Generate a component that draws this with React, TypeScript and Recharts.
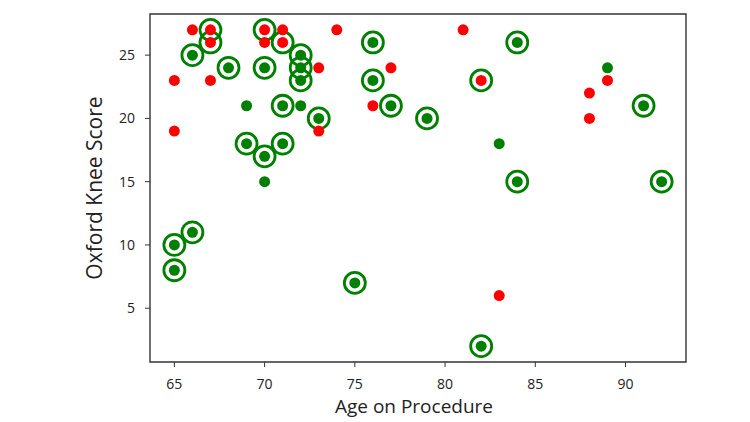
import React from "react";
import {
  ScatterChart,
  Scatter,
  XAxis,
  YAxis,
  ReferenceArea,
} from "recharts";

// Red dots
const RED_AGE = [66, 67, 67, 65, 67, 70, 70, 71, 71, 74, 73, 65, 73, 77, 76, 81, 82, 89, 88, 88, 83];
const RED_SCORE = [27, 27, 26, 23, 23, 27, 26, 27, 26, 27, 24, 19, 19, 24, 21, 27, 23, 23, 22, 20, 6];

// Green dots
const GREEN_AGE = [66, 68, 70, 72, 72, 72, 71, 73, 69, 71, 70, 76, 76, 77, 79, 84, 84, 91, 92, 65, 65, 66, 75, 82, 69, 72, 70, 83, 89];
const GREEN_SCORE = [25, 24, 24, 25, 24, 23, 21, 20, 18, 18, 17, 26, 23, 21, 20, 26, 15, 21, 15, 10, 8, 11, 7, 2, 21, 21, 15, 18, 24];

// Circled patients
const RING_AGE = [67, 67, 70, 71, 82, 66, 68, 70, 72, 72, 72, 71, 73, 69, 71, 70, 76, 76, 77, 79, 84, 84, 91, 92, 65, 65, 66, 75, 82];
const RING_SCORE = [27, 26, 27, 26, 23, 25, 24, 24, 25, 24, 23, 21, 20, 18, 18, 17, 26, 23, 21, 20, 26, 15, 21, 15, 10, 8, 11, 7, 2];

const X_TICKS = [65, 70, 75, 80, 85, 90];
const Y_TICKS = [5, 10, 15, 20, 25];
const X_DOMAIN: [number, number] = [63.65, 93.35];
const Y_DOMAIN: [number, number] = [0.75, 28.25];

const zip = (xs: number[], ys: number[]) => xs.map((x, i) => ({ age: x, score: ys[i] }));

const redData = zip(RED_AGE, RED_SCORE);
const greenData = zip(GREEN_AGE, GREEN_SCORE);
const ringData = zip(RING_AGE, RING_SCORE);

const FONT = "'Open Sans', sans-serif";
const INK = "#222";

const dot = (color: string) => (p: any) => (
  <circle cx={p.cx} cy={p.cy} r={5.5} fill={color} />
);

const ring = (p: any) => (
  <circle cx={p.cx} cy={p.cy} r={10.5} fill="none" stroke="#008000" strokeWidth={2.8} />
);

const XTitle = ({ viewBox }: any) => (
  <text
    x={viewBox.x + viewBox.width / 2 - 4}
    y={viewBox.y + 51}
    textAnchor="middle"
    fontFamily={FONT}
    fontSize={19}
    fill={INK}
  >
    Age on Procedure
  </text>
);

const YTitle = ({ viewBox }: any) => {
  const cx = viewBox.x + 4;
  const cy = viewBox.y + viewBox.height / 2;
  return (
    <text
      x={cx}
      y={cy}
      transform={`rotate(-90, ${cx}, ${cy})`}
      textAnchor="middle"
      dominantBaseline="central"
      fontFamily={FONT}
      fontSize={21}
      fill={INK}
    >
      Oxford Knee Score
    </text>
  );
};

export default function App() {
  const tick = { fill: INK, fontSize: 14, fontFamily: FONT };
  return (
    <div style={{ position: "absolute", left: 0, top: 0, background: "#fff" }}>
      <ScatterChart
        width={750}
        height={422}
        margin={{ top: 14, right: 64, bottom: 0, left: 90 }}
      >
        <XAxis
          type="number"
          dataKey="age"
          domain={X_DOMAIN}
          ticks={X_TICKS}
          allowDataOverflow
          axisLine={false}
          tickLine={{ stroke: "#333" }}
          tickSize={5}
          tickMargin={12}
          tick={tick}
          height={60}
          label={<XTitle />}
        />
        <YAxis
          type="number"
          dataKey="score"
          domain={Y_DOMAIN}
          ticks={Y_TICKS}
          allowDataOverflow
          axisLine={false}
          tickLine={{ stroke: "#333" }}
          tickSize={5}
          tickMargin={10}
          tick={tick}
          width={60}
          label={<YTitle />}
        />
        <ReferenceArea
          x1={X_DOMAIN[0]}
          x2={X_DOMAIN[1]}
          y1={Y_DOMAIN[0]}
          y2={Y_DOMAIN[1]}
          fill="none"
          stroke="#333"
          strokeWidth={1.4}
        />
        <Scatter data={ringData} shape={ring} isAnimationActive={false} />
        <Scatter data={greenData} shape={dot("#008000")} isAnimationActive={false} />
        <Scatter data={redData} shape={dot("#ff0000")} isAnimationActive={false} />
      </ScatterChart>
    </div>
  );
}
